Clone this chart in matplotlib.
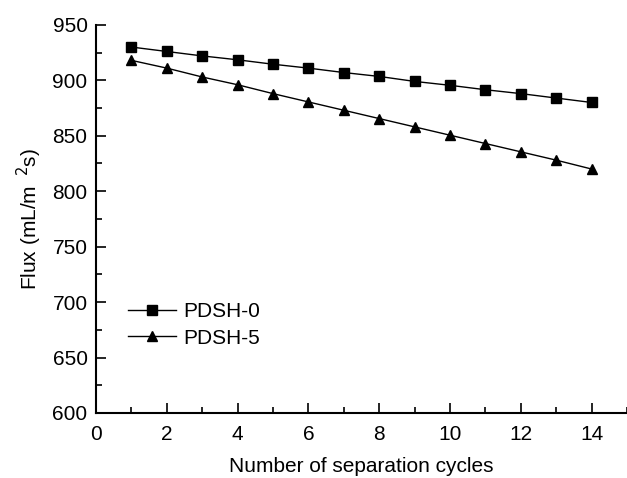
import matplotlib
matplotlib.use("Agg")
import matplotlib.pyplot as plt
from matplotlib.ticker import MultipleLocator

plt.rcParams['font.family'] = ['Liberation Sans', 'DejaVu Sans']

cycles = list(range(1, 15))
pdsh0 = [930, 926, 922, 918.5, 914.5, 911, 907, 903.5, 899, 895.5, 891.5, 888, 884, 880]
pdsh5 = [918, 911, 903, 896, 888, 880.5, 873, 865.5, 858, 850.5, 843, 835.5, 828, 820]

fs = 15

fig = plt.figure(figsize=(6.27, 4.78), dpi=100)
ax = fig.add_axes([0.153, 0.136, 0.847, 0.812])

ax.plot(cycles, pdsh0, color='black', lw=1, marker='s', ms=6.5, label='PDSH-0')
ax.plot(cycles, pdsh5, color='black', lw=1, marker='^', ms=7.5, label='PDSH-5')

ax.set_xlim(0, 15)
ax.set_ylim(600, 950)
ax.xaxis.set_major_locator(MultipleLocator(2))
ax.xaxis.set_minor_locator(MultipleLocator(1))
ax.yaxis.set_major_locator(MultipleLocator(50))
ax.yaxis.set_minor_locator(MultipleLocator(25))
ax.tick_params(which='both', direction='in', labelsize=fs, width=1.2)
ax.tick_params(which='major', length=7)
ax.tick_params(which='minor', length=4)
ax.tick_params(axis='x', pad=9)
ax.tick_params(axis='y', pad=6)

for s in ['top', 'right']:
    ax.spines[s].set_visible(False)
for s in ['left', 'bottom']:
    ax.spines[s].set_linewidth(1.5)

ax.set_xlabel('Number of separation cycles', fontsize=fs, labelpad=9)
ax.set_ylabel(r'Flux (mL/m$^{\ \ 2}$s)', fontsize=fs, labelpad=6)

ax.legend(loc='lower left', bbox_to_anchor=(0.025, 0.12), frameon=False,
          fontsize=fs, handlelength=2.3, handletextpad=0.35, labelspacing=0.35)

fig.savefig('out.png', dpi=100)
